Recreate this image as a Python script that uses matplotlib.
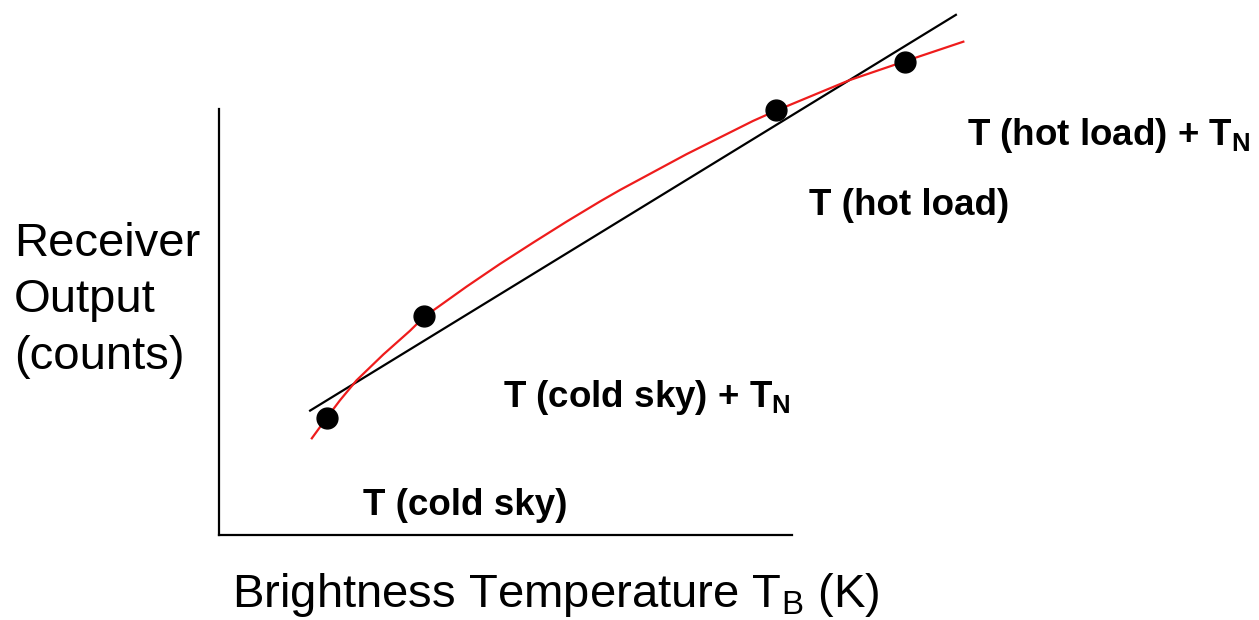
import matplotlib
matplotlib.use("Agg")
import matplotlib.pyplot as plt

plt.rcParams['font.family'] = ['Liberation Sans', 'DejaVu Sans']
plt.rcParams['mathtext.fontset'] = 'custom'
plt.rcParams['mathtext.rm'] = 'Liberation Sans'
plt.rcParams['mathtext.bf'] = 'Liberation Sans:bold'

# calibration measurements (arbitrary units, schematic)
point_x = [18.8, 35.8, 97.2, 119.7]
point_y = [27.5, 51.4, 99.8, 111.1]

# straight-line (linear) response
line_x = [15.9, 128.6]
line_y = [29.2, 122.1]

curve_x = [16.2, 18.8, 21.1, 24.0, 28.7, 33.3, 35.8, 43.2, 49.0, 54.9,
           60.7, 66.5, 70.0, 81.6, 93.2, 97.2, 104.9, 110.1, 119.7, 129.9]
curve_y = [22.7, 27.5, 31.6, 36.3, 42.4, 47.9, 51.2, 58.3, 63.6, 68.7,
           73.6, 78.3, 81.0, 89.4, 97.2, 99.6, 103.9, 106.8, 111.2, 115.8]

W, H = 1259, 620
fig = plt.figure(figsize=(W / 100, H / 100), dpi=100)
ax = fig.add_axes([219 / W, (H - 535) / H, 573 / W, 426 / H])
ax.set_xlim(0, 100)
ax.set_ylim(0, 100)
for side in ['top', 'right']:
    ax.spines[side].set_visible(False)
for side in ['left', 'bottom']:
    ax.spines[side].set_linewidth(1.6)
ax.set_xticks([])
ax.set_yticks([])

ax.plot(line_x, line_y, color='black', lw=1.6, clip_on=False, zorder=2)
ax.plot(curve_x, curve_y, color='#ee1c1c', lw=1.6, clip_on=False, zorder=3,
        solid_joinstyle='round')
ax.plot(point_x, point_y, 'o', color='black', markersize=15, clip_on=False, zorder=4)


def ftext(x, y, s, **kw):
    fig.text(x / W, 1 - y / H, s, va='baseline', ha='left', **kw)


ftext(14, 256, 'Receiver', fontsize=34)
ftext(14, 312, 'Output', fontsize=34)
ftext(14, 369, '(counts)', fontsize=34)
ftext(232, 607, r'Brightness Temperature T$_\mathrm{B}$ (K)', fontsize=34)

ftext(363, 515, 'T (cold sky)', fontsize=26.5, fontweight='bold')
ftext(503, 407, r'T (cold sky) + T$_\mathbf{N}$', fontsize=26.5, fontweight='bold')
ftext(809, 215, 'T (hot load)', fontsize=26.5, fontweight='bold')
ftext(967, 145, r'T (hot load) + T$_\mathbf{N}$', fontsize=26.5, fontweight='bold')

fig.savefig('out.png', dpi=100)
